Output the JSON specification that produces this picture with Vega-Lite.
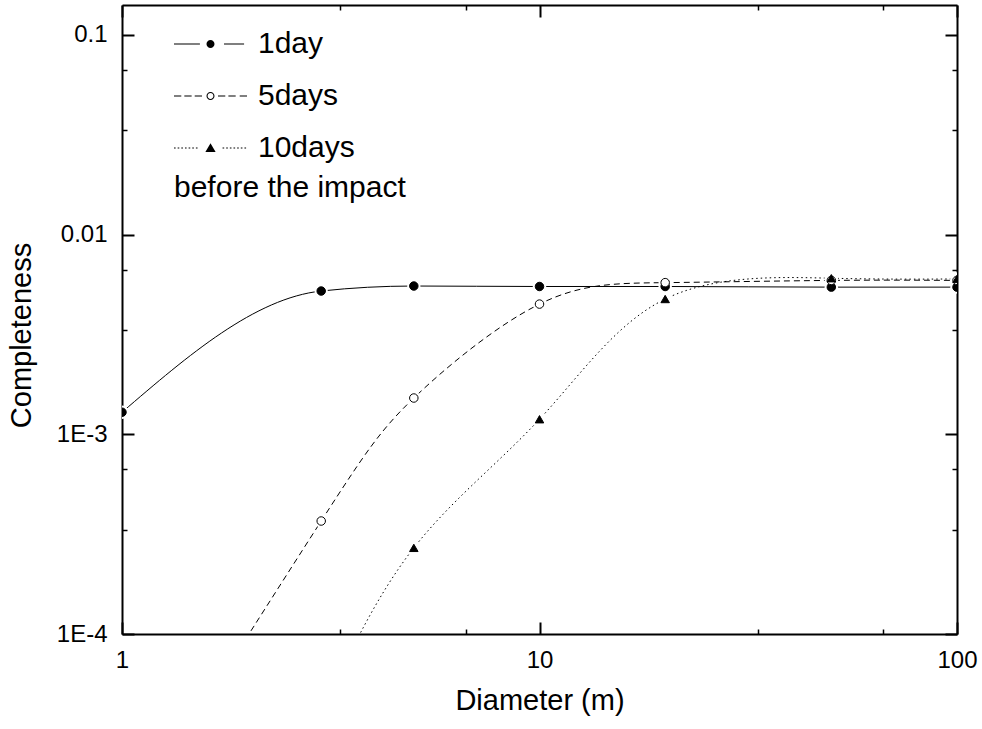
{
  "$schema": "https://vega.github.io/schema/vega-lite/v6.json",
  "width": 835,
  "height": 629,
  "autosize": {"type": "none"},
  "padding": {"left": 122, "top": 5, "right": 25, "bottom": 95},
  "background": "white",
  "config": {
    "view": {"stroke": null},
    "font": "Liberation Sans",
    "axis": {
      "grid": false,
      "zindex": 1,
      "domainColor": "black",
      "domainWidth": 2,
      "tickColor": "black",
      "labelColor": "black",
      "titleColor": "black",
      "labelFont": "Liberation Sans",
      "titleFont": "Liberation Sans",
      "labelFontSize": 24,
      "titleFontSize": 29,
      "titleFontWeight": "normal",
      "labelFlush": false
    },
    "legend": {
      "labelFont": "Liberation Sans",
      "titleFont": "Liberation Sans",
      "labelColor": "black",
      "titleColor": "black"
    }
  },
  "data": {
    "values": [
      {"series": "1day", "diameter": 1, "completeness": 0.00129},
      {"series": "1day", "diameter": 3, "completeness": 0.00522},
      {"series": "1day", "diameter": 5, "completeness": 0.00553},
      {"series": "1day", "diameter": 10, "completeness": 0.0055},
      {"series": "1day", "diameter": 20, "completeness": 0.0055},
      {"series": "1day", "diameter": 50, "completeness": 0.00546},
      {"series": "1day", "diameter": 100, "completeness": 0.00546},
      {"series": "5days", "diameter": 1, "completeness": 0.00001},
      {"series": "5days", "diameter": 3, "completeness": 0.000368},
      {"series": "5days", "diameter": 5, "completeness": 0.00152},
      {"series": "5days", "diameter": 10, "completeness": 0.00449},
      {"series": "5days", "diameter": 20, "completeness": 0.00575},
      {"series": "5days", "diameter": 50, "completeness": 0.0059},
      {"series": "5days", "diameter": 100, "completeness": 0.0059},
      {"series": "10days", "diameter": 3, "completeness": 0.00004},
      {"series": "10days", "diameter": 5, "completeness": 0.00027},
      {"series": "10days", "diameter": 10, "completeness": 0.00119},
      {"series": "10days", "diameter": 20, "completeness": 0.00476},
      {"series": "10days", "diameter": 50, "completeness": 0.00605},
      {"series": "10days", "diameter": 100, "completeness": 0.006}
    ]
  },
  "resolve": {"axis": {"x": "independent", "y": "independent"}},
  "layer": [
    {
      "transform": [{"filter": "datum.series === '1day'"}],
      "mark": {"type": "line", "interpolate": "monotone", "clip": true, "color": "black", "strokeWidth": 1},
      "encoding": {
        "x": {
          "field": "diameter", "type": "quantitative",
          "scale": {"type": "log", "domain": [1, 100], "nice": false},
          "axis": {
            "orient": "bottom", "values": [1, 10, 100], "tickSize": -12, "tickWidth": 2,
            "labelPadding": 26, "labelExpr": "datum.value >= 50 ? '100' : datum.value >= 5 ? '10' : '1'",
            "title": "Diameter (m)", "titlePadding": 14
          }
        },
        "y": {
          "field": "completeness", "type": "quantitative",
          "scale": {"type": "log", "domain": [0.0001, 0.1413], "nice": false},
          "axis": {
            "orient": "left", "values": [0.0001, 0.001, 0.01, 0.1], "tickSize": -12, "tickWidth": 2,
            "labelPadding": 27,
            "labelExpr": "datum.value > 0.05 ? '0.1' : datum.value > 0.005 ? '0.01' : datum.value > 0.0005 ? '1E-3' : '1E-4'",
            "title": "Completeness", "titlePadding": 20, "titleY": 330
          }
        }
      }
    },
    {
      "transform": [{"filter": "datum.series !== '1day'"}],
      "mark": {"type": "line", "interpolate": "natural", "clip": true, "color": "black", "strokeWidth": 1},
      "encoding": {
        "x": {
          "field": "diameter", "type": "quantitative",
          "scale": {"type": "log", "domain": [1, 100], "nice": false},
          "axis": null
        },
        "y": {
          "field": "completeness", "type": "quantitative",
          "scale": {"type": "log", "domain": [0.0001, 0.1413], "nice": false},
          "axis": null
        },
        "detail": {"field": "series", "type": "nominal"},
        "strokeDash": {
          "condition": {"test": "datum.series === '5days'", "value": [6, 4]},
          "value": [1.5, 3]
        }
      }
    },
    {
      "mark": {"type": "point", "filled": true, "clip": true, "color": "white", "opacity": 1, "size": 180, "strokeWidth": 0},
      "encoding": {
        "x": {
          "field": "diameter", "type": "quantitative",
          "scale": {"type": "log", "domain": [1, 100], "nice": false},
          "axis": {"orient": "top", "values": [1, 10, 100], "tickSize": -12, "tickWidth": 2, "labels": false, "title": null}
        },
        "y": {
          "field": "completeness", "type": "quantitative",
          "scale": {"type": "log", "domain": [0.0001, 0.1413], "nice": false},
          "axis": {"orient": "right", "values": [0.0001, 0.001, 0.01, 0.1], "tickSize": -12, "tickWidth": 2, "labels": false, "title": null}
        },
        "detail": {"field": "series", "type": "nominal"}
      }
    },
    {
      "mark": {"type": "point", "filled": true, "clip": true, "stroke": "black", "strokeWidth": 1, "opacity": 1, "size": 72},
      "encoding": {
        "x": {
          "field": "diameter", "type": "quantitative",
          "scale": {"type": "log", "domain": [1, 100], "nice": false},
          "axis": {"orient": "bottom", "values": [3.333, 6.667, 33.33, 66.67], "tickSize": -5, "tickWidth": 1.5, "labels": false, "domain": false, "title": null}
        },
        "y": {
          "field": "completeness", "type": "quantitative",
          "scale": {"type": "log", "domain": [0.0001, 0.1413], "nice": false},
          "axis": {"orient": "left", "values": [0.000333, 0.000667, 0.00333, 0.00667, 0.0333, 0.0667], "tickSize": -5, "tickWidth": 1.5, "labels": false, "domain": false, "title": null}
        },
        "fill": {
          "condition": {"test": "datum.series === '5days'", "value": "white"},
          "value": "black"
        },
        "shape": {
          "condition": {"test": "datum.series === '10days'", "value": "triangle-up"},
          "value": "circle"
        }
      }
    },
    {
      "mark": {"type": "point", "filled": true, "color": "black", "opacity": 0, "clip": true, "strokeWidth": 0, "size": 5329},
      "encoding": {
        "x": {
          "field": "diameter", "type": "quantitative",
          "scale": {"type": "log", "domain": [1, 100], "nice": false},
          "axis": {"orient": "top", "values": [3.333, 6.667, 33.33, 66.67], "tickSize": -5, "tickWidth": 1.5, "labels": false, "domain": false, "title": null}
        },
        "y": {
          "field": "completeness", "type": "quantitative",
          "scale": {"type": "log", "domain": [0.0001, 0.1413], "nice": false},
          "axis": {"orient": "right", "values": [0.000333, 0.000667, 0.00333, 0.00667, 0.0333, 0.0667], "tickSize": -5, "tickWidth": 1.5, "labels": false, "domain": false, "title": null}
        },
        "shape": {
          "field": "series", "type": "nominal",
          "scale": {
            "domain": ["1day", "5days", "10days"],
            "range": [
              "M-1,-0.015H-0.29V0.015H-1Z M0.37,-0.015H0.92V0.015H0.37Z M-0.11,0A0.11,0.11,0,1,0,0.11,0A0.11,0.11,0,1,0,-0.11,0Z",
              "M-1,-0.015H-0.8V0.015H-1Z M-0.717,-0.015H-0.517V0.015H-0.717Z M-0.433,-0.015H-0.233V0.015H-0.433Z M0.205,-0.015H0.405V0.015H0.205Z M0.49,-0.015H0.69V0.015H0.49Z M0.8,-0.015H1V0.015H0.8Z M-0.11,0A0.11,0.11,0,1,0,0.11,0A0.11,0.11,0,1,0,-0.11,0Z M-0.08,0A0.08,0.08,0,1,1,0.08,0A0.08,0.08,0,1,1,-0.08,0Z",
              "M-1,-0.015H-0.955V0.015H-1Z M-0.9,-0.015H-0.855V0.015H-0.9Z M-0.8,-0.015H-0.755V0.015H-0.8Z M-0.7,-0.015H-0.655V0.015H-0.7Z M-0.6,-0.015H-0.555V0.015H-0.6Z M-0.5,-0.015H-0.455V0.015H-0.5Z M-0.4,-0.015H-0.355V0.015H-0.4Z M0.33,-0.015H0.375V0.015H0.33Z M0.43,-0.015H0.475V0.015H0.43Z M0.53,-0.015H0.575V0.015H0.53Z M0.63,-0.015H0.675V0.015H0.63Z M0.73,-0.015H0.775V0.015H0.73Z M0.83,-0.015H0.875V0.015H0.83Z M0.93,-0.015H0.975V0.015H0.93Z M0,-0.13L0.14,0.11L-0.14,0.11Z"
            ]
          },
          "legend": {
            "title": "before the impact",
            "titleOrient": "bottom",
            "titleAlign": "left",
            "titleFontSize": 30,
            "titleFontWeight": "normal",
            "titlePadding": 9,
            "titleLimit": 500,
            "labelLimit": 300,
            "labelFontSize": 30,
            "labelOffset": 11,
            "rowPadding": -13,
            "symbolSize": 5329,
            "symbolOpacity": 1,
            "symbolFillColor": "black",
            "symbolStrokeWidth": 0,
            "padding": 0,
            "orient": "none",
            "legendX": 52,
            "legendY": 2.5
          }
        }
      }
    }
  ]
}
